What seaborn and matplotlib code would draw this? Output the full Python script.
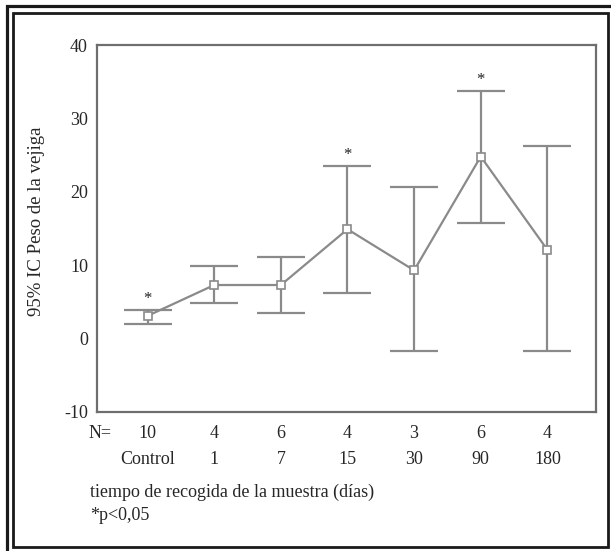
import numpy as np
import pandas as pd
import matplotlib
matplotlib.use("Agg")
import matplotlib.pyplot as plt
import matplotlib.patches as mpatches
import matplotlib.transforms as mtrans
import seaborn as sns

categories = ["Control", "1", "7", "15", "30", "90", "180"]
n_counts = ["10", "4", "6", "4", "3", "6", "4"]
means = [3.1, 7.3, 7.3, 14.9, 9.3, 24.8, 12.1]
ci_low = [2.0, 4.8, 3.5, 6.2, -1.7, 15.8, -1.7]
ci_high = [3.9, 9.9, 11.1, 23.5, 20.7, 33.8, 26.2]
significant = [True, False, False, True, False, True, False]
yticks = [-10, 0, 10, 20, 30, 40]

sns.set_theme(style="white")
plt.rcParams["font.family"] = ["Liberation Serif", "DejaVu Serif"]

df = pd.DataFrame({"tiempo": categories, "peso": means,
                   "lo": ci_low, "hi": ci_high})

W, H = 611, 551
fig = plt.figure(figsize=(W / 100, H / 100), dpi=100)
ax = fig.add_axes([97 / W, 1 - 412 / H, (596 - 97) / W, (412 - 45) / H])

line_col = "#8a8a8a"
sns.pointplot(data=df, x="tiempo", y="peso", order=categories, errorbar=None,
              color=line_col, markers="s", linestyles="-", markersize=6,
              linewidth=1.6, markerfacecolor="white", markeredgecolor=line_col,
              markeredgewidth=1.2, ax=ax, zorder=3)

pos = np.arange(len(categories))
m = np.array(means)
ax.errorbar(pos, m, yerr=[m - np.array(ci_low), np.array(ci_high) - m],
            fmt="none", ecolor=line_col, elinewidth=1.6, capsize=17,
            capthick=1.6, zorder=2)

for i, s in enumerate(significant):
    if s:
        ax.annotate("*", (pos[i], ci_high[i]), xytext=(0, 2),
                    textcoords="offset points", ha="center", va="bottom",
                    fontsize=12, color="#222222")

ax.set_xlim(-0.76, 6.73)
ax.set_ylim(-10, 40)
ax.set_yticks(yticks)
ax.set_yticklabels([str(v) for v in yticks], fontsize=13)
ax.set_xticks(pos)
ax.set_xticklabels(n_counts, fontsize=13)
ax.tick_params(axis="both", length=3, width=2.5, color="black",
               direction="inout", pad=5)
ax.tick_params(axis="x", pad=8)
ax.set_xlabel("")
ax.set_ylabel("")
for sp in ax.spines.values():
    sp.set_visible(True)
    sp.set_color("#6e6e6e")
    sp.set_linewidth(1.6)

fig.text(37 / W, 1 - 221 / H, "95% IC Peso de la vejiga", rotation=90,
         ha="center", va="center", fontsize=13.5)

trans = mtrans.blended_transform_factory(ax.transData, fig.transFigure)
for i, c in enumerate(categories):
    ax.text(pos[i], 1 - 459 / H, c, transform=trans, ha="center",
            va="center", fontsize=13)
fig.text(100 / W, 1 - 433 / H, "N=", ha="center", va="center", fontsize=13)
fig.text(90 / W, 1 - 492 / H, "tiempo de recogida de la muestra (días)",
         ha="left", va="center", fontsize=13)
fig.text(90 / W, 1 - 515 / H, "*p<0,05", ha="left", va="center", fontsize=13)

# frame
fig.patches.append(mpatches.Rectangle((6.5 / W, -0.05), 1.1, 1 - 6.5 / H + 0.05,
                                      transform=fig.transFigure, fill=False,
                                      edgecolor="#1a1a1a", linewidth=2.3))
fig.patches.append(mpatches.Rectangle((12.5 / W, 1 - 547 / H),
                                      (608 - 12.5) / W, (547 - 12.5) / H,
                                      transform=fig.transFigure, fill=False,
                                      edgecolor="#1a1a1a", linewidth=2.0))

fig.savefig("out.png", dpi=100)
